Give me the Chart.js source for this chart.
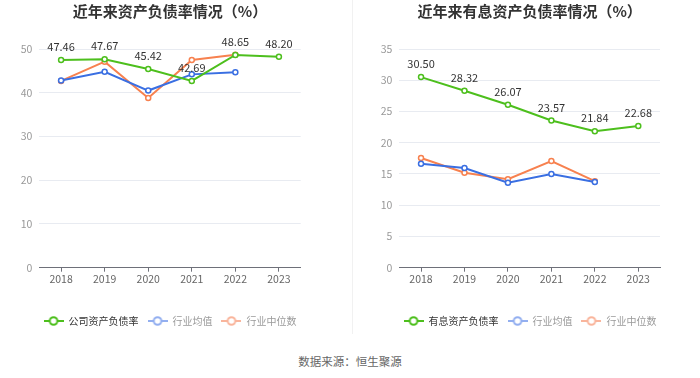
<!DOCTYPE html>
<html>
<head>
<meta charset="utf-8">
<script src="https://cdn.jsdelivr.net/npm/chart.js@4.4.0/dist/chart.umd.min.js"></script>
<style>
  html, body { margin: 0; padding: 0; background: #fff; }
  #wrap { position: relative; width: 700px; height: 378px; overflow: hidden; font-family: "Noto Sans CJK SC", sans-serif; }
  #c1 { position: absolute; left: 0; top: 0; }
  #c2 { position: absolute; left: 350px; top: 0; }
  #sep { position: absolute; left: 352px; top: 0; width: 1px; height: 334px; background: #f1f1f1; }
  #src { position: absolute; left: 0; width: 700px; top: 352px; text-align: center; font-size: 11.5px; color: #666; line-height: 18px; }
</style>
</head>
<body>
<div id="wrap">
  <div id="sep"></div>
  <canvas id="c1" width="350" height="336"></canvas>
  <canvas id="c2" width="350" height="336"></canvas>
  <div id="src">数据来源：恒生聚源</div>
</div>
<script>
// ---- data ----
const years = ["2018", "2019", "2020", "2021", "2022", "2023"];

const title1 = "近年来资产负债率情况（%）";
const seriesNames1 = ["公司资产负债率", "行业均值", "行业中位数"];
const company1 = [47.46, 47.67, 45.42, 42.69, 48.65, 48.20];
const avg1 = [42.8, 44.8, 40.5, 44.2, 44.7, null];
const median1 = [42.7, 47.1, 38.8, 47.5, 48.7, null];
const yTicks1 = { min: 0, max: 50, step: 10 };

const title2 = "近年来有息资产负债率情况（%）";
const seriesNames2 = ["有息资产负债率", "行业均值", "行业中位数"];
const company2 = [30.50, 28.32, 26.07, 23.57, 21.84, 22.68];
const avg2 = [16.65, 15.96, 13.6, 15.0, 13.7, null];
const median2 = [17.55, 15.2, 14.15, 17.07, 13.85, null];
const yTicks2 = { min: 0, max: 35, step: 5 };

// ---- styles ----
const GREEN = "#4dbf1d", BLUE = "#3a6fe2", ORANGE = "#f7814f";
const LEG_COLORS = [GREEN, "#93aff0", "#f9b59c"];
const LEG_TEXT = ["#333333", "#9a9a9a", "#9a9a9a"];
const FONT = "'Noto Sans CJK SC', sans-serif";

function makeIcon(color) {
  const c = document.createElement("canvas");
  c.width = 20; c.height = 10;
  const g = c.getContext("2d");
  g.strokeStyle = color; g.lineWidth = 2;
  g.beginPath(); g.moveTo(0, 5); g.lineTo(20, 5); g.stroke();
  g.beginPath(); g.arc(10, 5, 3.8, 0, Math.PI * 2);
  g.fillStyle = "#fff"; g.fill(); g.stroke();
  return c;
}
const icons = LEG_COLORS.map(makeIcon);

const labelPlugin = {
  id: "valLabels",
  afterDatasetsDraw(chart) {
    const ctx = chart.ctx;
    const meta = chart.getDatasetMeta(0);
    const data = chart.data.datasets[0].data;
    ctx.save();
    ctx.font = "11px " + FONT;
    ctx.fillStyle = "#333";
    ctx.textAlign = "center";
    ctx.textBaseline = "middle";
    meta.data.forEach((pt, i) => {
      if (data[i] == null) return;
      ctx.fillText(data[i].toFixed(2), pt.x, pt.y - 13);
    });
    ctx.restore();
  }
};

function ds(label, data, color) {
  return {
    label, data,
    borderColor: color, backgroundColor: "#fff",
    borderWidth: 2, tension: 0,
    pointRadius: 2.5, pointBorderWidth: 1.5,
    pointBackgroundColor: "#fff", pointBorderColor: color,
    spanGaps: false
  };
}

function build(id, title, names, s1, s2, s3, yt, padLeft, padRight, yWidth, rWidth) {
  return new Chart(document.getElementById(id), {
    type: "line",
    data: {
      labels: years,
      datasets: [ds(names[0], s1, GREEN), ds(names[1], s2, BLUE), ds(names[2], s3, ORANGE)]
    },
    options: {
      responsive: false,
      animation: false,
      layout: { padding: { left: padLeft, right: padRight, top: 0, bottom: 0 } },
      plugins: {
        tooltip: { enabled: false },
        title: {
          display: true, text: title, fullSize: false,
          color: "#333", font: { family: FONT, size: 15, weight: "bold", lineHeight: 1.2 },
          padding: { top: 2, bottom: 29 }
        },
        legend: {
          display: true, position: "bottom", fullSize: true,
          labels: {
            usePointStyle: true, pointStyleWidth: 20, padding: 9,
            font: { family: FONT, size: 10 },
            generateLabels(chart) {
              return chart.data.datasets.map((d, i) => ({
                text: d.label, datasetIndex: i, hidden: false,
                pointStyle: icons[i], fontColor: LEG_TEXT[i],
                lineWidth: 0, strokeStyle: "rgba(0,0,0,0)", fillStyle: "rgba(0,0,0,0)"
              }));
            }
          }
        }
      },
      scales: {
        x: {
          type: "category", offset: true,
          grid: { display: true, drawOnChartArea: false, drawTicks: true, tickLength: 4, offset: false, color: "#6e7079" },
          border: { display: true, color: "#6e7079", width: 1 },
          ticks: { color: "#666", font: { family: FONT, size: 10.5 }, padding: 1, maxRotation: 0, autoSkip: false },
          afterFit(scale) { scale.height = 39.3; }
        },
        y: {
          min: yt.min, max: yt.max,
          grid: { color: "#e8ebf1", drawTicks: false },
          border: { display: false },
          ticks: { stepSize: yt.step, color: "#999", font: { family: FONT, size: 10.5 }, padding: 7 },
          afterFit(scale) { scale.width = yWidth; }
        },
        yRight: {
          position: "right", min: 0, max: 1,
          grid: { display: false }, border: { display: false },
          ticks: { display: false },
          afterFit(scale) { scale.width = rWidth; }
        }
      }
    },
    plugins: [labelPlugin]
  });
}

build("c1", title1, seriesNames1, company1, avg1, median1, yTicks1, 0, 10, 39.3, 39.3);
build("c2", title2, seriesNames2, company2, avg2, median2, yTicks2, 10, 0, 39.3, 40);
</script>
</body>
</html>
